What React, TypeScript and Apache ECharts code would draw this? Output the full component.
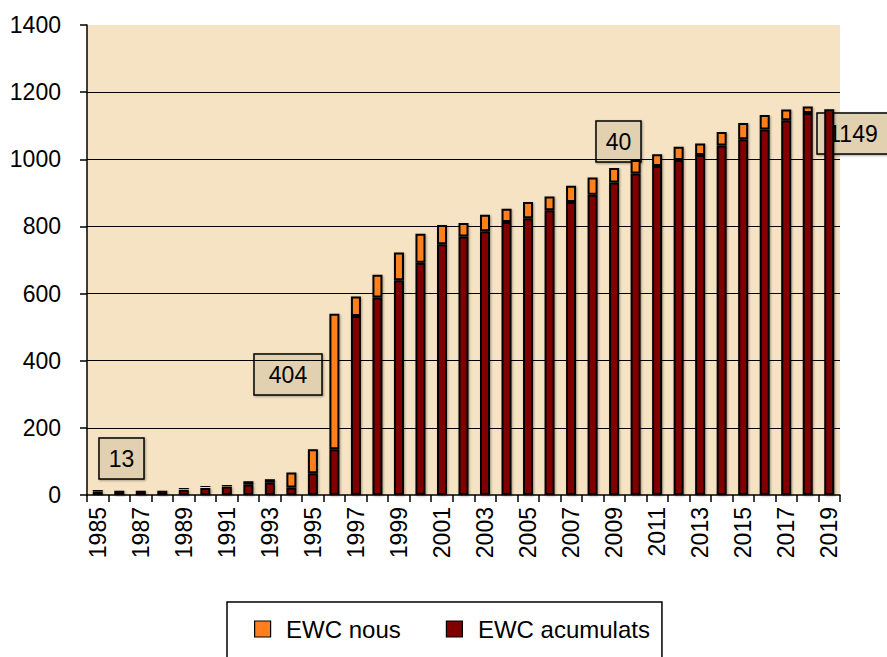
import React, { useEffect, useRef } from "react";
import * as echarts from "echarts";

const years: string[] = [
  "1985", "1986", "1987", "1988", "1989", "1990", "1991", "1992", "1993", "1994",
  "1995", "1996", "1997", "1998", "1999", "2000", "2001", "2002", "2003", "2004",
  "2005", "2006", "2007", "2008", "2009", "2010", "2011", "2012", "2013", "2014",
  "2015", "2016", "2017", "2018", "2019",
];

const acumulats: number[] = [
  11, 13, 13, 13, 16, 21, 25, 31, 37, 22,
  65, 136, 533, 588, 640, 692, 747, 770, 786, 813,
  824, 848, 873, 894, 931, 958, 980, 998, 1013, 1041,
  1060, 1089, 1116, 1138, 1149,
];

const nous: number[] = [
  6, 1, 1, 4, 6, 6, 6, 10, 10, 45,
  71, 404, 58, 68, 82, 86, 57, 40, 49, 40,
  49, 41, 48, 52, 43, 40, 35, 39, 34, 40,
  48, 43, 32, 19, 5,
];

const annotations: { text: string; x: number; y: number; w: number }[] = [
  { text: "13", x: 99, y: 438, w: 45 },
  { text: "404", x: 254, y: 354, w: 68 },
  { text: "40", x: 596, y: 121, w: 45 },
  { text: "1149", x: 817, y: 113, w: 80 },
];

const FONT = "'Liberation Sans', Arial, Helvetica, sans-serif";

export default function App() {
  const ref = useRef<HTMLDivElement>(null);

  useEffect(() => {
    if (!ref.current) return;
    const chart = echarts.init(ref.current, undefined, { renderer: "svg" });

    const graphics: any[] = annotations.map((a) => ({
      type: "group",
      z: 100,
      children: [
        {
          type: "rect",
          shape: { x: a.x, y: a.y, width: a.w, height: 41 },
          style: {
            fill: "#E1D1B1",
            stroke: "#000",
            lineWidth: 1.5,
            shadowBlur: 2,
            shadowColor: "rgba(0,0,0,0.35)",
            shadowOffsetX: 1,
            shadowOffsetY: 1,
          },
        },
        {
          type: "text",
          style: {
            text: a.text,
            x: a.x + (a.text === "1149" ? 36 : a.w / 2),
            y: a.y + 21,
            align: "center",
            verticalAlign: "middle",
            fontSize: 23,
            fontFamily: FONT,
            fill: "#000",
          },
        },
      ],
    }));

    const splitColors = ["transparent", "#000", "#000", "#000", "#000", "#000", "#000", "transparent"];

    chart.setOption({
      animation: false,
      backgroundColor: "#fff",
      textStyle: { fontFamily: FONT },
      grid: {
        left: 87,
        right: 47,
        top: 25,
        bottom: 162,
        show: true,
        backgroundColor: "#F6E3C4",
        borderWidth: 0,
      },
      legend: {
        left: 227,
        top: 602,
        orient: "horizontal",
        data: ["EWC nous", "EWC acumulats"],
        icon: "path://M0,0L10,0L10,10L0,10Z",
        itemWidth: 37,
        itemHeight: 16,
        itemGap: 45,
        padding: [15, 12, 40, 27],
        backgroundColor: "#fff",
        borderColor: "#000",
        borderWidth: 1.5,
        borderRadius: 0,
        itemStyle: { borderColor: "#000", borderWidth: 1.2 },
        textStyle: { fontSize: 24, lineHeight: 24, color: "#000", fontFamily: FONT },
      },
      xAxis: {
        type: "category",
        data: years,
        boundaryGap: true,
        axisLine: { show: true, lineStyle: { color: "#000", width: 1.5 } },
        axisTick: { show: true, interval: 0, length: 7, alignWithLabel: false, lineStyle: { color: "#000", width: 1.5 } },
        axisLabel: {
          interval: 1,
          rotate: 90,
          margin: 12,
          fontSize: 23,
          color: "#000",
          fontFamily: FONT,
        },
        splitLine: { show: false },
      },
      yAxis: {
        type: "value",
        min: 0,
        max: 1400,
        interval: 200,
        axisLine: { show: true, lineStyle: { color: "#000", width: 1.5 } },
        axisTick: { show: true, length: 7, lineStyle: { color: "#000", width: 1.5 } },
        axisLabel: {
          fontSize: 23,
          color: "#000",
          margin: 26,
          fontFamily: FONT,
          formatter: (v: number) => String(v),
        },
        splitLine: { show: true, lineStyle: { color: splitColors, width: 1 } },
      },
      series: [
        {
          name: "EWC acumulats",
          type: "bar",
          stack: "total",
          data: acumulats,
          barWidth: 10,
          itemStyle: {
            color: "#800000",
            borderColor: "#000",
            borderWidth: 2,
            shadowBlur: 2,
            shadowColor: "rgba(0,0,0,0.35)",
            shadowOffsetX: 1,
            shadowOffsetY: 1,
          },
        },
        {
          name: "EWC nous",
          type: "bar",
          stack: "total",
          data: nous,
          barWidth: 10,
          itemStyle: {
            color: "#FF7F1E",
            borderColor: "#000",
            borderWidth: 2,
            shadowBlur: 2,
            shadowColor: "rgba(0,0,0,0.35)",
            shadowOffsetX: 1,
            shadowOffsetY: 1,
          },
        },
      ],
      graphic: graphics,
    });

    return () => chart.dispose();
  }, []);

  return (
    <div
      ref={ref}
      style={{ position: "fixed", left: 0, top: 0, width: 887, height: 657, background: "#fff" }}
    />
  );
}
